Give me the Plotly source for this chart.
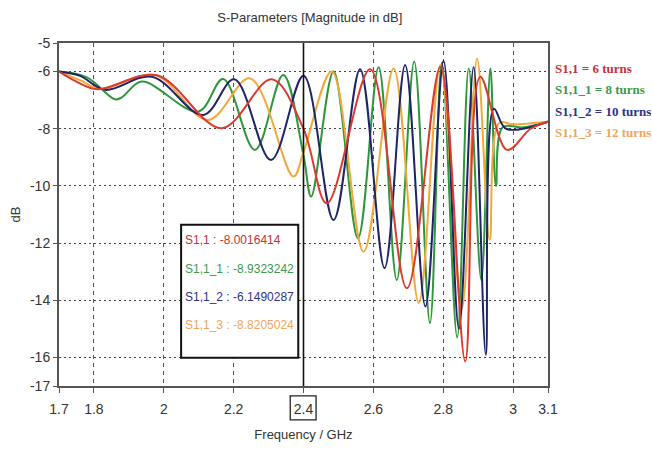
import plotly.graph_objects as go

# S11 magnitude (dB) vs frequency (GHz) for four coil turn counts
freq_6 = [1.70, 1.75, 1.81, 1.98, 2.166, 2.309, 2.40, 2.467, 2.591, 2.696, 2.792, 2.863, 2.906, 2.983, 3.05, 3.10]
s11_6 = [-6.0, -6.35, -6.62, -6.13, -7.98, -6.27, -8.0016414, -10.61, -5.92, -13.58, -5.83, -16.14, -6.18, -8.74, -8.0, -7.75]

freq_8 = [1.70, 1.78, 1.86, 1.88, 1.937, 2.099, 2.17, 2.261, 2.342, 2.40, 2.422, 2.486, 2.556, 2.615, 2.667,
          2.717, 2.762, 2.796, 2.840, 2.873, 2.909, 2.935, 2.951, 2.97, 3.03, 3.10]
s11_8 = [-6.0, -6.2, -6.97, -6.9, -6.35, -7.40, -6.26, -8.74, -6.12, -8.9323242, -10.37, -6.0, -11.83, -5.85, -13.29,
         -5.65, -14.8, -5.69, -15.3, -5.89, -13.29, -5.89, -10.0, -7.95, -7.95, -7.75]

freq_10 = [1.70, 1.76, 1.832, 1.966, 2.113, 2.202, 2.307, 2.40, 2.486, 2.562, 2.632, 2.691, 2.749, 2.801, 2.845,
           2.887, 2.922, 2.945, 2.98, 3.10]
s11_10 = [-6.0, -6.15, -6.64, -6.18, -7.52, -6.27, -9.09, -6.1490287, -11.19, -5.92, -12.88, -5.77, -14.22, -5.62, -15.0,
          -5.85, -15.91, -7.3, -8.0, -7.75]

freq_12 = [1.70, 1.76, 1.82, 1.975, 2.127, 2.247, 2.371, 2.40, 2.481, 2.572, 2.658, 2.730, 2.792, 2.853, 2.897,
           2.933, 2.96, 3.00, 3.10]
s11_12 = [-6.0, -6.3, -6.6, -6.12, -7.69, -6.24, -9.67, -8.8205024, -6.0, -12.30, -5.89, -14.10, -5.77, -14.3, -5.54,
          -11.89, -7.8, -7.85, -7.75]

series_names = ["S1,1", "S1,1_1", "S1,1_2", "S1,1_3"]
legend_labels = ["S1,1 = 6 turns", "S1,1_1 = 8 turns", "S1,1_2 = 10 turns", "S1,1_3 = 12 turns"]
marker_freq = 2.4
marker_values = [-8.0016414, -8.9323242, -6.1490287, -8.8205024]

x_ticks = [1.7, 1.8, 2, 2.2, 2.4, 2.6, 2.8, 3, 3.1]
y_ticks = [-5, -6, -8, -10, -12, -14, -16, -17]

line_colors = ["#dc3a2c", "#2f963c", "#1d2468", "#f2a93a"]
text_colors = ["#c8303a", "#3c9a4c", "#2c3488", "#f2a560"]

SANS = "Liberation Sans, Arial, sans-serif"
SERIF = "Liberation Serif, Times New Roman, serif"

data = [(freq_6, s11_6), (freq_8, s11_8), (freq_10, s11_10), (freq_12, s11_12)]
draw_order = [1, 3, 2, 0]

fig = go.Figure()
for i in draw_order:
    fx, fy = data[i]
    fig.add_trace(go.Scatter(
        x=fx, y=fy, mode="lines", name=legend_labels[i],
        line=dict(color=line_colors[i], width=2, shape="spline", smoothing=1.0),
        showlegend=False, hoverinfo="x+y+name",
    ))

# marker line at 2.4 GHz
fig.add_shape(type="line", xref="x", yref="y", x0=marker_freq, x1=marker_freq, y0=-17, y1=-5,
              line=dict(color="#111111", width=1.6), layer="above")

# box around the marker tick label
fig.add_shape(type="rect", xref="x", yref="paper", x0=2.362, x1=2.436, y0=-0.099, y1=-0.029,
              line=dict(color="#222222", width=1.3), fillcolor="rgba(0,0,0,0)")

# marker readout box
fig.add_shape(type="rect", xref="x", yref="y", x0=2.0496, x1=2.385, y0=-16.01, y1=-11.36,
              line=dict(color="#111111", width=2), fillcolor="white", layer="above")
readout_y = [-11.89, -12.90, -13.88, -14.86]
for name, val, yy, col in zip(series_names, marker_values, readout_y, text_colors):
    fig.add_annotation(x=2.056, y=yy, xref="x", yref="y", xanchor="left", yanchor="middle",
                       text=f"{name} : {val:.7f}", showarrow=False,
                       font=dict(family=SANS, size=12, color=col))

# series labels at right
label_y = [0.927, 0.863, 0.799, 0.738]
for lab, yy, col in zip(legend_labels, label_y, text_colors):
    fig.add_annotation(x=1.011, y=yy, xref="paper", yref="paper", xanchor="left", yanchor="middle",
                       text=f"<b>{lab}</b>", showarrow=False,
                       font=dict(family=SERIF, size=13, color=col))

fig.update_layout(
    width=652, height=454,
    margin=dict(l=59, r=104, t=43, b=68),
    paper_bgcolor="white", plot_bgcolor="white",
    title=dict(text="S-Parameters [Magnitude in dB]", x=0.513, xref="paper", xanchor="center",
               y=0.962, yref="container", yanchor="middle",
               font=dict(family=SANS, size=13, color="#333333")),
    font=dict(family=SANS, size=14, color="#333333"),
    xaxis=dict(
        range=[1.7, 3.1], tickmode="array", tickvals=x_ticks,
        ticktext=[str(t) for t in x_ticks],
        showgrid=True, gridcolor="#555555", gridwidth=1, griddash="4px,4px",
        showline=True, mirror=True, linecolor="#555555", linewidth=2,
        ticks="outside", ticklen=5, tickcolor="#555555", ticklabelstandoff=4,
        zeroline=False,
        title=dict(text="Frequency / GHz", standoff=14, font=dict(family=SANS, size=13, color="#333333")),
    ),
    yaxis=dict(
        range=[-17, -5], tickmode="array", tickvals=y_ticks,
        ticktext=[str(t) for t in y_ticks],
        showgrid=True, gridcolor="#444444", gridwidth=1.3, griddash="2px,3px",
        showline=True, mirror=True, linecolor="#555555", linewidth=2,
        ticks="outside", ticklen=4, tickcolor="#555555",
        zeroline=False,
        title=dict(text="dB", standoff=6, font=dict(family=SANS, size=13, color="#333333")),
    ),
)

fig.write_html("out.html")
